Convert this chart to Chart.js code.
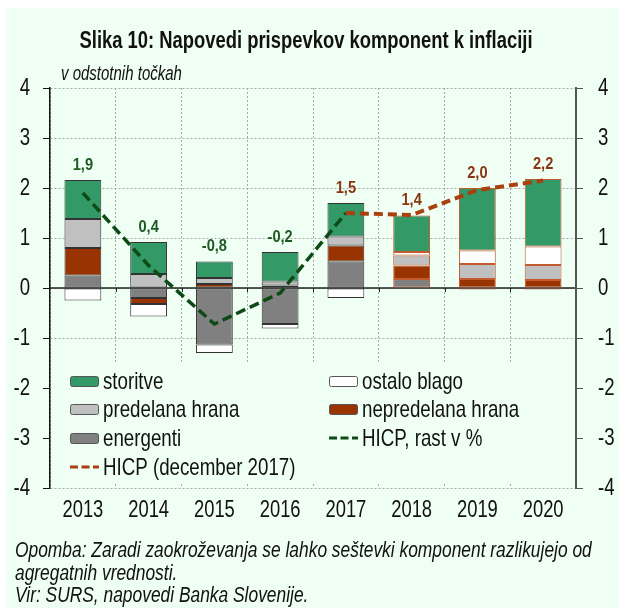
<!DOCTYPE html>
<html>
<head>
<meta charset="utf-8">
<script src="https://cdn.jsdelivr.net/npm/chart.js@4.4.0/dist/chart.umd.min.js"></script>
<style>
  body { margin: 0; background: #fff; }
  canvas { display: block; }
</style>
</head>
<body>
<canvas id="myChart" width="619" height="608"></canvas>
<script>
// data (percentage points)
const years = ['2013', '2014', '2015', '2016', '2017', '2018', '2019', '2020'];
const energenti = [0.25, -0.2, -1.13, -0.72, 0.53, 0.18, -0.03, -0.03];
const nepredelanaHrana = [0.55, -0.12, 0.08, 0.05, 0.32, 0.27, 0.18, 0.16];
const predelanaHrana = [0.58, 0.28, 0.12, 0.08, 0.18, 0.2, 0.3, 0.3];
const ostaloBlago = [-0.25, -0.25, -0.17, -0.09, -0.2, 0.07, 0.27, 0.37];
const storitve = [0.78, 0.64, 0.33, 0.59, 0.67, 0.73, 1.25, 1.35];
const hicp = [1.9, 0.45, -0.72, -0.1, 1.5, null, null, null];
const hicpDec2017 = [null, null, null, null, 1.5, 1.46, 1.96, 2.15];
const totalLabels = ['1,9', '0,4', '-0,8', '-0,2', '1,5', '1,4', '2,0', '2,2'];

const BG = '#effff4';
const FONT = '"Liberation Sans", Arial, sans-serif';
const GREEN_LINE = '#0c4a16';
const BROWN_LINE = '#a9400d';

// bars up to 2017 outlined dark, forecast years outlined brown
const edge = years.map((y, i) => i < 5 ? '#333333' : '#c45a30');

function barSet(label, data, color) {
    return {
        type: 'bar', label: label, data: data,
        backgroundColor: color, borderColor: edge,
        borderWidth: 1, borderSkipped: false, order: 2
    };
}

// the original uses a condensed face, so squeeze the text horizontally
function narrowText(ctx, text, x, y, font, sx, align) {
    ctx.save();
    ctx.font = font;
    ctx.textAlign = align || 'left';
    ctx.textBaseline = 'middle';
    ctx.translate(x, y);
    ctx.scale(sx, 1);
    ctx.fillText(text, 0, 0);
    ctx.restore();
}

const legendDecor = {
    id: 'legendDecor',
    beforeDraw(chart) {
        const ctx = chart.ctx;
        ctx.save();
        ctx.fillStyle = BG;
        ctx.fillRect(6, 8, chart.width - 6, chart.height - 8);
        ctx.restore();
    },
    beforeDatasetsDraw(chart) {
        const { ctx, chartArea: a, scales: { x, y } } = chart;
        ctx.save();
        // legend box hides the grid
        ctx.fillStyle = BG;
        ctx.fillRect(a.left + 1, 364, a.right - a.left - 2, 120);
        const y0 = y.getPixelForValue(0);
        ctx.strokeStyle = '#222';
        ctx.lineWidth = 1.5;
        ctx.beginPath();
        ctx.moveTo(a.left, y0);
        ctx.lineTo(a.right, y0);
        ctx.stroke();
        ctx.lineWidth = 1;
        for (let i = 1; i < years.length; i++) {
            const px = Math.round((x.getPixelForValue(i - 1) + x.getPixelForValue(i)) / 2) + 0.5;
            ctx.beginPath();
            ctx.moveTo(px, y0);
            ctx.lineTo(px, y0 + 4);
            ctx.stroke();
        }
        ctx.restore();
    },
    afterDraw(chart) {
        const { ctx, scales: { x, y, y2 } } = chart;
        const ds = chart.data.datasets;
        ctx.save();

        // axis labels
        ctx.fillStyle = '#111';
        const tickFont = '24.5px ' + FONT;
        y.ticks.forEach(t => narrowText(ctx, String(t.value), 30, y.getPixelForValue(t.value), tickFont, 0.76, 'right'));
        y2.ticks.forEach(t => narrowText(ctx, String(t.value), 598, y2.getPixelForValue(t.value), tickFont, 0.76, 'left'));
        years.forEach((lab, i) => narrowText(ctx, lab, x.getPixelForValue(i), 510, tickFont, 0.75, 'center'));

        // totals above the bars
        totalLabels.forEach((t, i) => {
            let top = 0;
            ds.forEach(d => { if (d.type === 'bar' && d.data[i] > 0) top += d.data[i]; });
            ctx.fillStyle = i < 4 ? '#1f5a22' : '#8a3510';
            narrowText(ctx, t, x.getPixelForValue(i), y.getPixelForValue(top) - 15, 'bold 17px ' + FONT, 0.86, 'center');
        });

        // title, unit, notes
        ctx.fillStyle = '#111';
        narrowText(ctx, 'Slika 10: Napovedi prispevkov komponent k inflaciji', 306, 42, 'bold 23px ' + FONT, 0.8, 'center');
        narrowText(ctx, 'v odstotnih točkah', 61, 74, 'italic 20px ' + FONT, 0.75, 'left');
        const noteFont = 'italic 22px ' + FONT;
        narrowText(ctx, 'Opomba: Zaradi zaokroževanja se lahko seštevki komponent razlikujejo od', 15, 551, noteFont, 0.79, 'left');
        narrowText(ctx, 'agregatnih vrednosti.', 15, 574, noteFont, 0.79, 'left');
        narrowText(ctx, 'Vir: SURS, napovedi Banka Slovenije.', 15, 596, noteFont, 0.79, 'left');

        // legend, two columns
        const order = [4, 3, 2, 1, 0, 5, 6];
        const rows = [381, 409, 438, 467];
        order.forEach((di, k) => {
            const d = ds[di];
            const bx = k % 2 === 0 ? 70 : 329;
            const ry = rows[Math.floor(k / 2)];
            if (d.type === 'bar') {
                ctx.fillStyle = d.backgroundColor;
                ctx.strokeStyle = '#555';
                ctx.lineWidth = 1;
                ctx.beginPath();
                ctx.roundRect(bx + 0.5, ry - 4.5, 28, 10, 2);
                ctx.fill();
                ctx.stroke();
            } else {
                ctx.strokeStyle = d.borderColor;
                ctx.lineWidth = 3;
                ctx.setLineDash([8, 3.5]);
                ctx.beginPath();
                ctx.moveTo(bx, ry);
                ctx.lineTo(bx + 29, ry);
                ctx.stroke();
                ctx.setLineDash([]);
            }
            ctx.fillStyle = '#111';
            narrowText(ctx, d.label, bx + 33, ry + 1, '24px ' + FONT, 0.78, 'left');
        });
        ctx.restore();
    }
};

const ctx = document.getElementById('myChart').getContext('2d');
const myChart = new Chart(ctx, {
    data: {
        labels: years,
        datasets: [
            barSet('energenti', energenti, '#808080'),
            barSet('nepredelana hrana', nepredelanaHrana, '#993300'),
            barSet('predelana hrana', predelanaHrana, '#c0c0c0'),
            barSet('ostalo blago', ostaloBlago, '#ffffff'),
            barSet('storitve', storitve, '#339966'),
            {
                type: 'line', label: 'HICP, rast v %', data: hicp, stack: 'hicp',
                borderColor: GREEN_LINE, borderWidth: 3.5, borderDash: [10, 5],
                pointRadius: 0, fill: false, tension: 0, order: 1
            },
            {
                type: 'line', label: 'HICP (december 2017)', data: hicpDec2017, stack: 'hicpDec',
                borderColor: BROWN_LINE, borderWidth: 4, borderDash: [9, 5],
                pointRadius: 0, fill: false, tension: 0, order: 0
            }
        ]
    },
    options: {
        responsive: false,
        animation: false,
        events: [],
        devicePixelRatio: 1,
        layout: { padding: { top: 88, left: 0, right: 0, bottom: 0 } },
        datasets: { bar: { categoryPercentage: 1, barPercentage: 0.56 } },
        plugins: { legend: { display: false }, tooltip: { enabled: false } },
        scales: {
            x: {
                stacked: true,
                grid: { offset: true, color: '#a8a8a8', lineWidth: 1, drawTicks: false },
                border: { display: false, dash: [2, 2] },
                ticks: { display: false },
                afterFit(s) { s.height = 120; }
            },
            y: {
                stacked: true, min: -4, max: 4,
                grid: { color: '#a8a8a8', tickColor: '#111', tickLength: 7 },
                border: { color: '#111', width: 1.5, dash: [2, 2], z: 1 },
                ticks: { stepSize: 1, display: false },
                afterFit(s) { s.width = 50; }
            },
            y2: {
                position: 'right', min: -4, max: 4,
                grid: { drawOnChartArea: false, tickColor: '#555', tickLength: 7 },
                border: { color: '#555', width: 2, z: 1 },
                ticks: { stepSize: 1, display: false },
                afterFit(s) { s.width = 43; }
            }
        }
    },
    plugins: [legendDecor]
});
</script>
</body>
</html>
